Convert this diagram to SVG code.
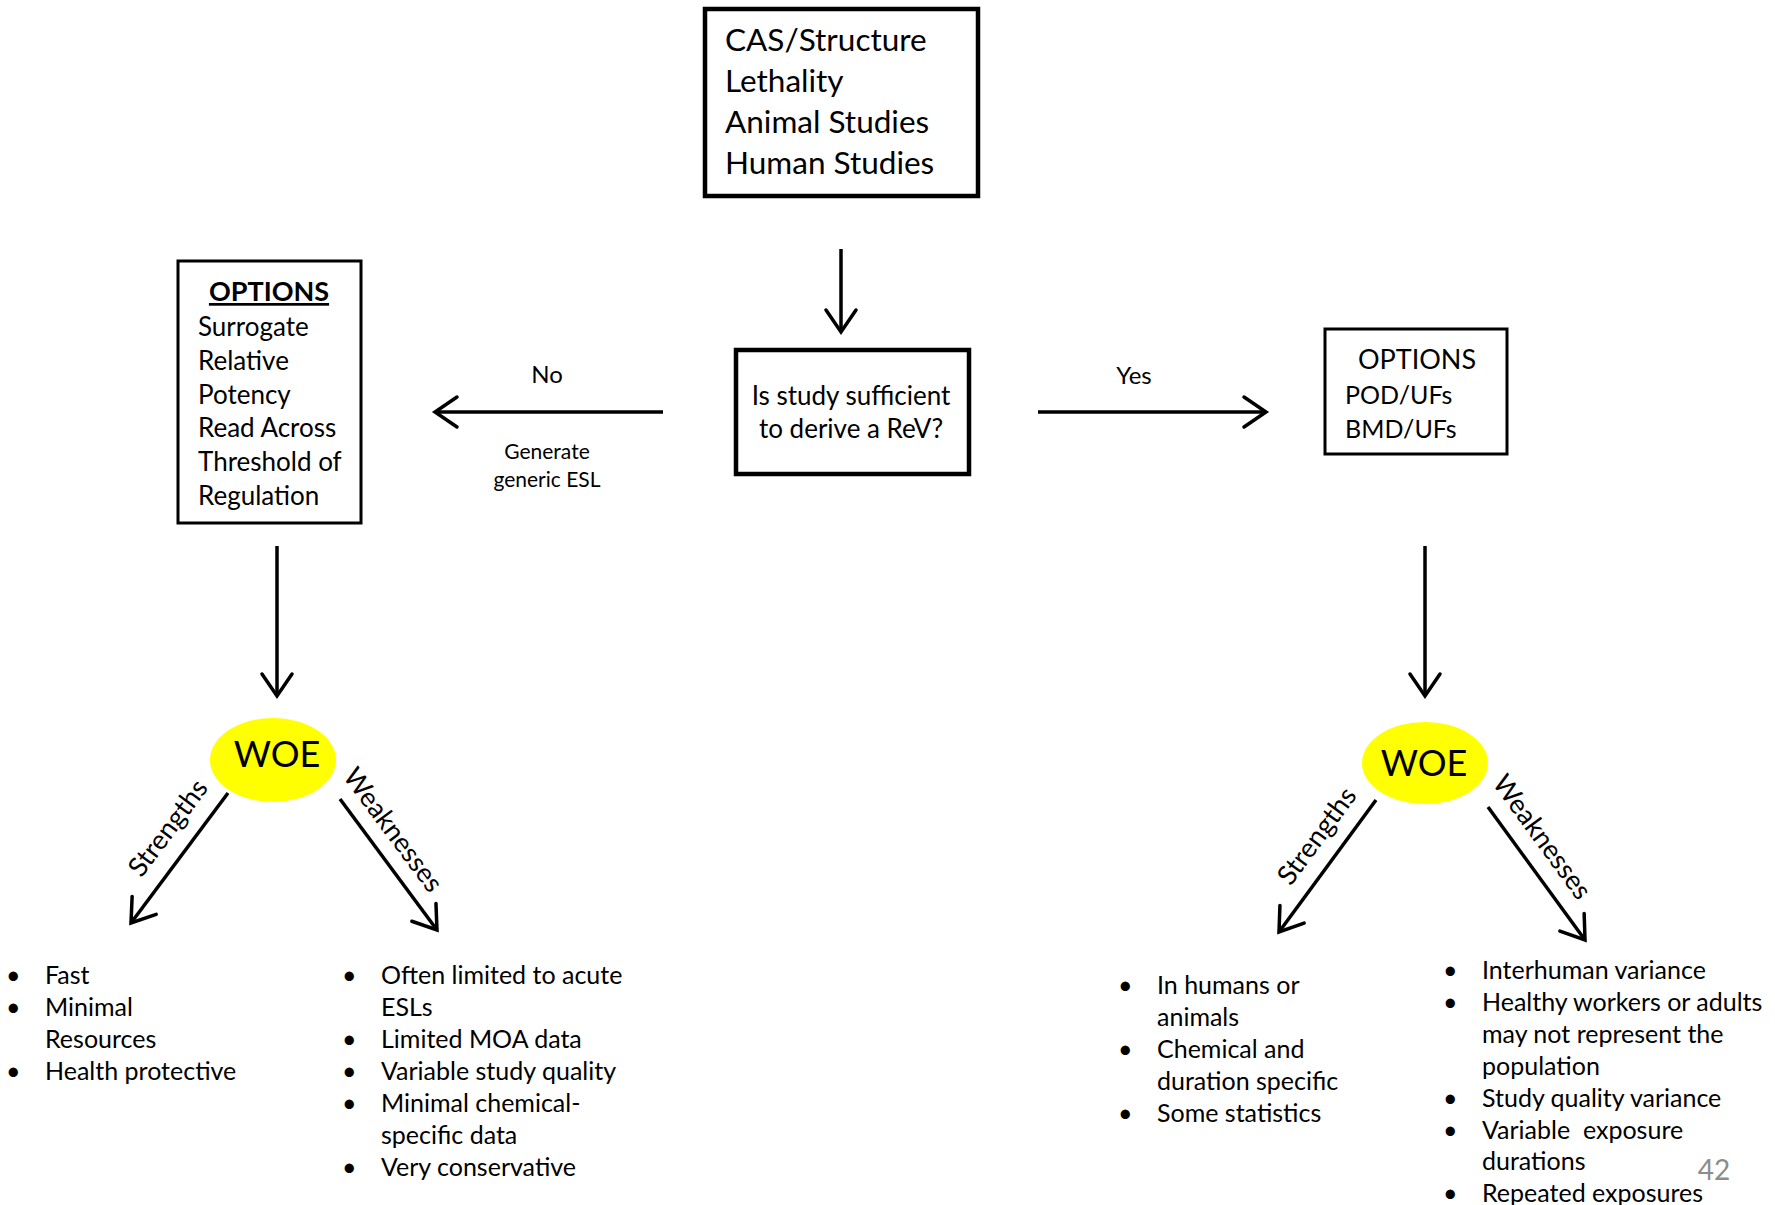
<svg xmlns="http://www.w3.org/2000/svg" width="1775" height="1205" viewBox="0 0 1775 1205">
  <style>
    text { font-family: Lato, "Open Sans", "Liberation Sans", sans-serif; fill: #000; }
    .box { fill: #fff; stroke: #000; }
    .heavy { stroke-width: 4.5; }
    .light { stroke-width: 3; }
    .t31 { font-size: 31.5px; }
    .t26 { font-size: 26px; }
    .t25 { font-size: 25px; }
    .t24 { font-size: 24px; }
    .t21 { font-size: 21px; }
    .woe { font-size: 36px; text-anchor: middle; }
    .lab { font-size: 27px; text-anchor: middle; }
    .list { font-size: 25px; white-space: pre; }
    .mid { text-anchor: middle; }
    .edge { stroke: #000; stroke-width: 3.5; fill: none; marker-end: url(#chev); }
  </style>
  <defs>
    <marker id="chev" markerUnits="userSpaceOnUse" viewBox="-26 -18 30 36" refX="0" refY="0" markerWidth="30" markerHeight="36" orient="auto">
      <path d="M -22 -15 L 0 0 L -22 15" fill="none" stroke="#000" stroke-width="3.5" stroke-linecap="round" stroke-linejoin="miter"/>
    </marker>
  </defs>
  <rect width="1775" height="1205" fill="#fff"/>

  <!-- connectors -->
  <g id="connectors">
    <line class="edge" x1="841" y1="249" x2="841" y2="332"/>
    <line class="edge" x1="663" y1="412" x2="435" y2="412"/>
    <line class="edge" x1="1038" y1="412" x2="1266" y2="412"/>
    <line class="edge" x1="277" y1="546" x2="277" y2="696"/>
    <line class="edge" x1="1425" y1="546" x2="1425" y2="696"/>
    <line class="edge" x1="228" y1="793" x2="131" y2="923"/>
    <line class="edge" x1="340" y1="799" x2="437" y2="930"/>
    <line class="edge" x1="1376" y1="800" x2="1279" y2="932"/>
    <line class="edge" x1="1488" y1="807" x2="1585" y2="940"/>
    <text class="t24 mid" x="547" y="383">No</text>
    <text class="t21 mid" x="547" y="459">Generate</text>
    <text class="t21 mid" x="547" y="487">generic ESL</text>
    <text class="t24 mid" x="1134" y="384">Yes</text>
    <text class="lab" transform="translate(168 828) rotate(-53.2)" y="9">Strengths</text>
    <text class="lab" transform="translate(393 830) rotate(53.4)" y="9">Weaknesses</text>
    <text class="lab" transform="translate(1317 836) rotate(-53.6)" y="9">Strengths</text>
    <text class="lab" transform="translate(1542 837) rotate(53.8)" y="9">Weaknesses</text>
  </g>

  <!-- data sources -->
  <g id="sources">
    <rect class="box heavy" x="705" y="9" width="273" height="187"/>
    <text class="t31" x="725" y="50.5">CAS/Structure</text>
    <text class="t31" x="725" y="92">Lethality</text>
    <text class="t31" x="725" y="133">Animal Studies</text>
    <text class="t31" x="725" y="174">Human Studies</text>
  </g>

  <!-- decision -->
  <g id="decision">
    <rect class="box heavy" x="736" y="350" width="233" height="124"/>
    <text class="t26 mid" x="851" y="405">Is study sufficient</text>
    <text class="t26 mid" x="851" y="438">to derive a ReV?</text>
  </g>

  <!-- options when data are insufficient -->
  <g id="options-no">
    <rect class="box light" x="178" y="261" width="183" height="262"/>
    <text class="mid" x="269" y="301" font-size="27" font-weight="bold" text-decoration="underline">OPTIONS</text>
    <text class="t26" x="198" y="336">Surrogate</text>
    <text class="t26" x="198" y="370">Relative</text>
    <text class="t26" x="198" y="403.5">Potency</text>
    <text class="t26" x="198" y="437">Read Across</text>
    <text class="t26" x="198" y="471">Threshold of</text>
    <text class="t26" x="198" y="505">Regulation</text>
  </g>

  <!-- options when data are sufficient -->
  <g id="options-yes">
    <rect class="box light" x="1325" y="329" width="182" height="125"/>
    <text class="mid" x="1417" y="369" font-size="27">OPTIONS</text>
    <text class="t25" x="1345" y="404">POD/UFs</text>
    <text class="t25" x="1345" y="438">BMD/UFs</text>
  </g>

  <!-- weight of evidence, left -->
  <g id="woe-left">
    <ellipse cx="273" cy="760" rx="63" ry="42" fill="#ffff00"/>
    <text class="woe" x="277" y="767">WOE</text>
  </g>

  <!-- weight of evidence, right -->
  <g id="woe-right">
    <ellipse cx="1425" cy="763" rx="63" ry="41" fill="#ffff00"/>
    <text class="woe" x="1424" y="776">WOE</text>
  </g>

  <!-- strengths, left -->
  <g id="strengths-left">
    <text class="list" x="6" y="984">•</text><text class="list" x="45" y="984">Fast</text>
    <text class="list" x="6" y="1016">•</text><text class="list" x="45" y="1016">Minimal</text>
    <text class="list" x="45" y="1048">Resources</text>
    <text class="list" x="6" y="1080">•</text><text class="list" x="45" y="1080">Health protective</text>
  </g>

  <!-- weaknesses, left -->
  <g id="weaknesses-left">
    <text class="list" x="342" y="984">•</text><text class="list" x="381" y="984">Often limited to acute</text>
    <text class="list" x="381" y="1016">ESLs</text>
    <text class="list" x="342" y="1048">•</text><text class="list" x="381" y="1048">Limited MOA data</text>
    <text class="list" x="342" y="1080">•</text><text class="list" x="381" y="1080">Variable study quality</text>
    <text class="list" x="342" y="1112">•</text><text class="list" x="381" y="1112">Minimal chemical-</text>
    <text class="list" x="381" y="1144">specific data</text>
    <text class="list" x="342" y="1176">•</text><text class="list" x="381" y="1176">Very conservative</text>
  </g>

  <!-- strengths, right -->
  <g id="strengths-right">
    <text class="list" x="1118" y="994">•</text><text class="list" x="1157" y="994">In humans or</text>
    <text class="list" x="1157" y="1026">animals</text>
    <text class="list" x="1118" y="1058">•</text><text class="list" x="1157" y="1058">Chemical and</text>
    <text class="list" x="1157" y="1090">duration specific</text>
    <text class="list" x="1118" y="1122">•</text><text class="list" x="1157" y="1122">Some statistics</text>
  </g>

  <!-- weaknesses, right -->
  <g id="weaknesses-right">
    <text class="list" x="1443" y="979">•</text><text class="list" x="1482" y="979">Interhuman variance</text>
    <text class="list" x="1443" y="1011">•</text><text class="list" x="1482" y="1011">Healthy workers or adults</text>
    <text class="list" x="1482" y="1043">may not represent the</text>
    <text class="list" x="1482" y="1075">population</text>
    <text class="list" x="1443" y="1107">•</text><text class="list" x="1482" y="1107">Study quality variance</text>
    <text class="list" x="1443" y="1139">•</text><text class="list" x="1482" y="1139">Variable  exposure</text>
    <text class="list" x="1482" y="1170">durations</text>
    <text class="list" x="1443" y="1202">•</text><text class="list" x="1482" y="1202">Repeated exposures</text>
  </g>

  <!-- page number -->
  <text x="1714" y="1180" font-size="28" style="fill:#8c8c8c" text-anchor="middle">42</text>
</svg>
